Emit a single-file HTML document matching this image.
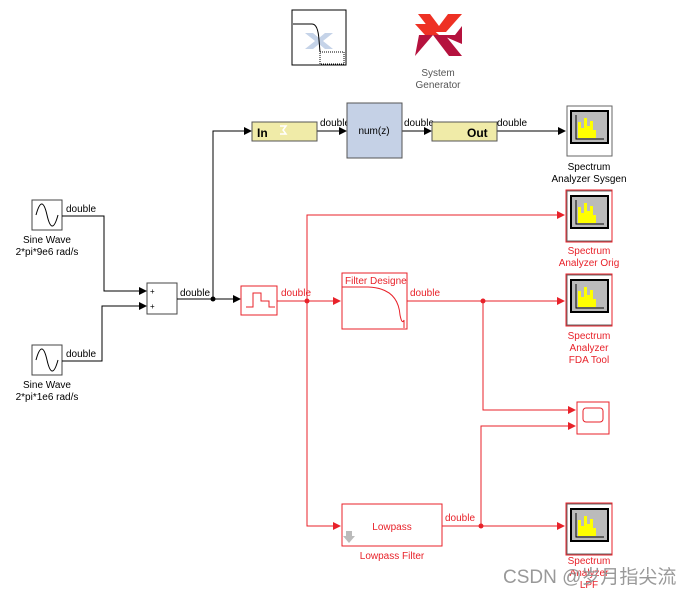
<!DOCTYPE html>
<html><head><meta charset="utf-8"><style>
html,body{margin:0;padding:0;background:#fff;width:690px;height:594px;overflow:hidden}
svg{display:block}
text{font-family:"Liberation Sans",sans-serif;font-size:10px}
</style></head><body>
<svg width="690" height="594" viewBox="0 0 690 594" xmlns="http://www.w3.org/2000/svg">
<defs>
<marker id="ak" markerWidth="8" markerHeight="8" refX="7" refY="4" orient="auto" markerUnits="userSpaceOnUse"><path d="M0,0 L8,4 L0,8z" fill="#000"/></marker>
<marker id="ar" markerWidth="8" markerHeight="8" refX="7" refY="4" orient="auto" markerUnits="userSpaceOnUse"><path d="M0,0 L8,4 L0,8z" fill="#e8222a"/></marker>
</defs>
<rect x="292" y="10" width="54" height="55" fill="#fff" stroke="#000"/>
<path d="M305,33 l10,8 -10,8 h8 l6,-5 6,5 h8 l-10,-8 10,-8 h-8 l-6,5 -6,-5z" fill="#c5d3e8"/>
<path d="M293,24 H312 Q318,24 319,40 L320,52" fill="none" stroke="#000"/>
<path d="M320,52 h24 v12 h-24z" fill="none" stroke="#000" stroke-dasharray="1 1"/>
<path d="M418,14 h12 l9,12 9,-12 h14 l-16,18 h-14z" fill="#ee3124"/>
<path d="M415,24 l10,11 h14 l-12,-11z" fill="#ee3124"/>
<path d="M419,35 h14 l-18,21 h0z M433,35 h12 l17,21 h-13z" fill="#b5123e"/>
<path d="M441,35 h14 l7,-9 v18z" fill="#b5123e"/>
<text x="438" y="76" text-anchor="middle" fill="#555">System</text>
<text x="438" y="88" text-anchor="middle" fill="#555">Generator</text>
<g stroke="#444" fill="#fff">
<rect x="32" y="200" width="30" height="30"/><rect x="32" y="345" width="30" height="30"/>
<rect x="147" y="283" width="30" height="31"/>
</g>
<path d="M36,215 q6,-22 11,0 t11,0 M36,360 q6,-22 11,0 t11,0" fill="none" stroke="#000"/>
<text x="66" y="212">double</text><text x="66" y="357">double</text>
<text x="47" y="243" text-anchor="middle">Sine Wave</text><text x="47" y="255" text-anchor="middle">2*pi*9e6 rad/s</text>
<text x="47" y="388" text-anchor="middle">Sine Wave</text><text x="47" y="400" text-anchor="middle">2*pi*1e6 rad/s</text>
<text x="150" y="294" style="font-size:8px">+</text><text x="150" y="309" style="font-size:8px">+</text>
<g fill="none" stroke="#000">
<path d="M62,216 H104 V291 H146" marker-end="url(#ak)"/>
<path d="M62,361 H102 V306 H146" marker-end="url(#ak)"/>
<path d="M177,299 H240" marker-end="url(#ak)"/>
<path d="M213,299 V131 H251" marker-end="url(#ak)"/>
<path d="M317,131 H346" marker-end="url(#ak)"/>
<path d="M402,131 H431" marker-end="url(#ak)"/>
<path d="M497,131 H565" marker-end="url(#ak)"/>
</g>
<circle cx="213" cy="299" r="2.5"/>
<text x="180" y="296">double</text><text x="320" y="126">double</text><text x="404" y="126">double</text><text x="497" y="126">double</text>
<rect x="252" y="122" width="65" height="19" fill="#f0eba8" stroke="#555"/>
<text x="257" y="137" style="font-size:12px;font-weight:bold">In</text>
<path d="M280,126 h6 l-3,4 3,4 h-6" fill="none" stroke="#fff" stroke-width="1.5"/>
<rect x="347" y="103" width="55" height="55" fill="#c5d1e6" stroke="#555"/>
<text x="374" y="134" text-anchor="middle">num(z)</text>
<rect x="432" y="122" width="65" height="19" fill="#f0eba8" stroke="#555"/>
<text x="467" y="137" style="font-size:12px;font-weight:bold">Out</text>
<g id="sa">
<rect x="567" y="106" width="45" height="50" fill="#fff" stroke="#666"/>
<rect x="571" y="111" width="37" height="32" fill="#bbb" stroke="#000" stroke-width="2"/>
<path d="M576,115 V139 H604" fill="none" stroke="#000"/>
<path d="M578,138 V122 h3 V128 h3 V118 h3 V126 h3 V121 h3 V130 h3 V138z" fill="#ff0"/>
</g>
<text x="589" y="170" text-anchor="middle">Spectrum</text><text x="589" y="182" text-anchor="middle">Analyzer Sysgen</text>
<g>
<use href="#sa" transform="translate(0,85)"/>
<use href="#sa" transform="translate(0,169)"/>
<use href="#sa" transform="translate(0,398)"/>
</g>
<g stroke="#e8222a" fill="none">
<rect x="566" y="190" width="46" height="52"/><rect x="566" y="274" width="46" height="52"/><rect x="566" y="503" width="46" height="52"/>
<rect x="241" y="286" width="36" height="29" fill="#fff"/>
<path d="M246,307 h7 v-14 h8 v8 h8 v6 h6"/>
<rect x="342" y="273" width="65" height="56" fill="#fff"/>
<path d="M342,287 H368 Q398,288 400,315 Q402,325 404,320 V328"/>
<rect x="577" y="402" width="32" height="32" fill="#fff"/>
<rect x="583" y="408" width="20" height="14" rx="3"/>
<rect x="342" y="504" width="100" height="42" fill="#fff"/>
<path d="M277,301 H340" marker-end="url(#ar)"/>
<path d="M307,301 V215 H564" marker-end="url(#ar)"/>
<path d="M307,301 V526 H340" marker-end="url(#ar)"/>
<path d="M407,301 H564" marker-end="url(#ar)"/>
<path d="M483,301 V410 H575" marker-end="url(#ar)"/>
<path d="M442,526 H564" marker-end="url(#ar)"/>
<path d="M481,526 V426 H575" marker-end="url(#ar)"/>
</g>
<path d="M346,531 h6 v5 h3 l-6,7 -6,-7 h3z" fill="#bbb"/>
<g fill="#e8222a">
<circle cx="307" cy="301" r="2.5"/><circle cx="483" cy="301" r="2.5"/><circle cx="481" cy="526" r="2.5"/>
<text x="281" y="296">double</text><text x="410" y="296">double</text><text x="445" y="521">double</text>
<text x="345" y="284">Filter Designe</text>
<text x="392" y="530" text-anchor="middle">Lowpass</text>
<text x="392" y="559" text-anchor="middle">Lowpass Filter</text>
<text x="589" y="254" text-anchor="middle">Spectrum</text><text x="589" y="266" text-anchor="middle">Analyzer Orig</text>
<text x="589" y="339" text-anchor="middle">Spectrum</text><text x="589" y="351" text-anchor="middle">Analyzer</text><text x="589" y="363" text-anchor="middle">FDA Tool</text>
<text x="589" y="564" text-anchor="middle">Spectrum</text><text x="589" y="576" text-anchor="middle">Analyzer</text><text x="589" y="588" text-anchor="middle">LPF</text>
</g>
<text x="503" y="583" fill="#999" style='font-size:19px;font-family:"Liberation Sans","Noto Sans CJK SC",sans-serif'>CSDN @岁月指尖流</text>
</svg>
</body></html>
